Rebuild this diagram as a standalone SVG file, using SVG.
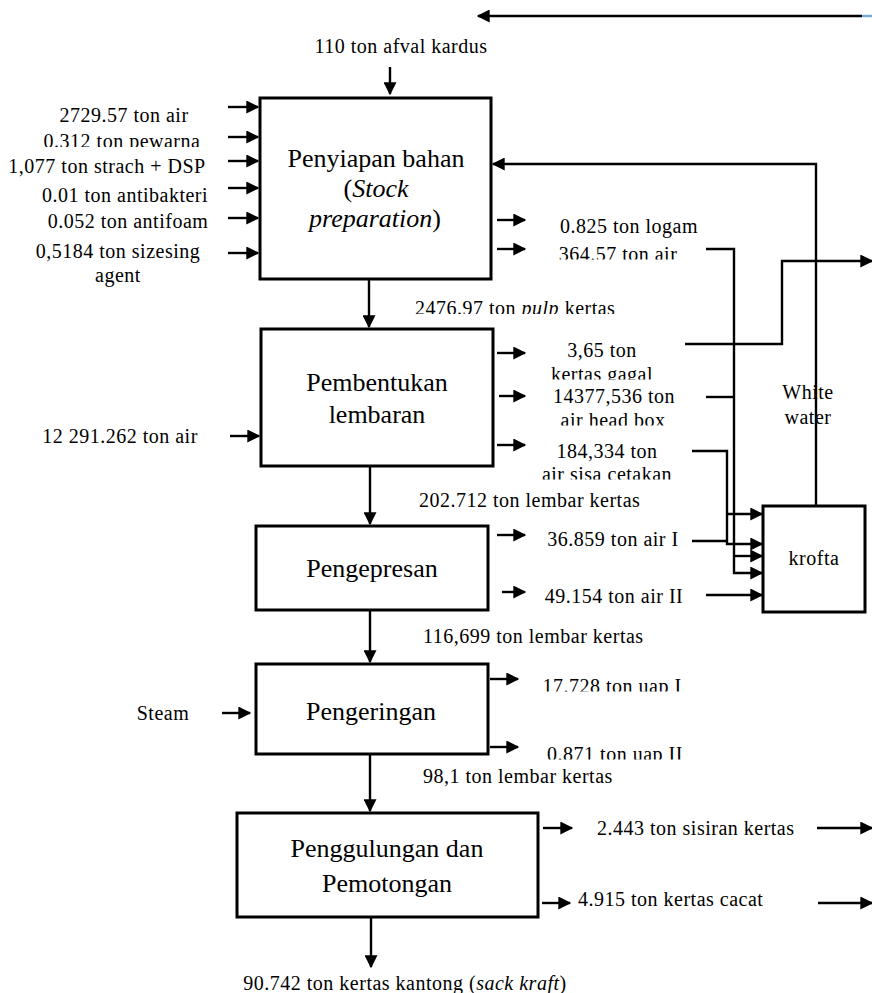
<svg xmlns="http://www.w3.org/2000/svg" width="872" height="993" viewBox="0 0 872 993">
<style>
text{font-family:"Liberation Serif","Times New Roman",serif;fill:#000}
.lb{font-size:20px;letter-spacing:0.5px}
.bx{font-size:26px}
.m{text-anchor:middle}
.box{fill:#fff;stroke:#000;stroke-width:3}
.ln{fill:none;stroke:#000;stroke-width:2.4}
.ar{fill:none;stroke:#000;stroke-width:2.4;marker-end:url(#ah)}
</style>
<defs>
<marker id="ah" viewBox="0 0 10 10" refX="9" refY="5" markerWidth="14" markerHeight="13" markerUnits="userSpaceOnUse" orient="auto"><path d="M0,0 L10,5 L0,10 z" fill="#000"/></marker>
<clipPath id="k1" clipPathUnits="userSpaceOnUse"><rect x="0" y="0" width="872" height="147"/></clipPath>
<clipPath id="k2" clipPathUnits="userSpaceOnUse"><rect x="0" y="0" width="872" height="259.5"/></clipPath>
<clipPath id="k3" clipPathUnits="userSpaceOnUse"><rect x="0" y="0" width="872" height="314"/></clipPath>
<clipPath id="k4" clipPathUnits="userSpaceOnUse"><rect x="0" y="0" width="872" height="379.5"/></clipPath>
<clipPath id="k5" clipPathUnits="userSpaceOnUse"><rect x="0" y="0" width="872" height="425.5"/></clipPath>
<clipPath id="k6" clipPathUnits="userSpaceOnUse"><rect x="0" y="0" width="872" height="479.5"/></clipPath>
<clipPath id="k7" clipPathUnits="userSpaceOnUse"><rect x="0" y="0" width="872" height="691.5"/></clipPath>
<clipPath id="k8" clipPathUnits="userSpaceOnUse"><rect x="0" y="0" width="872" height="759.5"/></clipPath>
</defs>
<rect width="872" height="993" fill="#fff"/>

<g id="connectors">
<line class="ar" x1="862" y1="16" x2="478" y2="16" stroke-width="3"/>
<line x1="862" y1="16" x2="872" y2="16" stroke="#7aa6d8" stroke-width="2.5"/>
<line class="ar" x1="390" y1="67" x2="390" y2="94"/>
<line class="ar" x1="228" y1="107" x2="258" y2="107"/>
<line class="ar" x1="228" y1="137" x2="258" y2="137"/>
<line class="ar" x1="228" y1="161" x2="258" y2="161"/>
<line class="ar" x1="228" y1="188" x2="258" y2="188"/>
<line class="ar" x1="228" y1="218" x2="258" y2="218"/>
<line class="ar" x1="228" y1="253" x2="258" y2="253"/>
<line class="ar" x1="369" y1="280" x2="369" y2="327"/>
<line class="ar" x1="497" y1="220" x2="525" y2="220"/>
<line class="ar" x1="497" y1="249" x2="525" y2="249"/>
<polyline class="ar" points="816,506 816,164 493,164"/>
<line class="ar" x1="230" y1="436" x2="259" y2="436"/>
<line class="ar" x1="497" y1="353" x2="525" y2="353"/>
<line class="ar" x1="499" y1="396" x2="525" y2="396"/>
<line class="ar" x1="497" y1="445" x2="525" y2="445"/>
<polyline class="ar" points="685,344 782,344 782,261 872,261"/>
<polyline class="ar" points="706,249 734,249 734,573 762,573"/>
<line class="ln" x1="706" y1="397" x2="734" y2="397"/>
<polyline class="ar" points="692,451 727,451 727,544 762,544"/>
<line class="ln" x1="692" y1="541" x2="727" y2="541"/>
<line class="ar" x1="727" y1="514" x2="762" y2="514"/>
<line class="ar" x1="734" y1="556" x2="762" y2="556"/>
<line class="ar" x1="706" y1="595" x2="762" y2="595"/>
<line class="ar" x1="370" y1="466" x2="370" y2="524"/>
<line class="ar" x1="497" y1="535" x2="525" y2="535"/>
<line class="ar" x1="502" y1="592" x2="525" y2="592"/>
<line class="ar" x1="370" y1="610" x2="370" y2="662"/>
<line class="ar" x1="222" y1="713" x2="250" y2="713"/>
<line class="ar" x1="490" y1="679" x2="518" y2="679"/>
<line class="ar" x1="490" y1="747" x2="518" y2="747"/>
<line class="ar" x1="370" y1="754" x2="370" y2="811"/>
<line class="ar" x1="543" y1="828" x2="572" y2="828"/>
<line class="ar" x1="542" y1="903" x2="570" y2="903"/>
<line class="ar" x1="817" y1="828" x2="872" y2="828"/>
<line class="ar" x1="818" y1="903" x2="872" y2="903"/>
<line class="ar" x1="371" y1="917" x2="371" y2="967"/>
</g>

<g id="box1">
<rect class="box" x="260" y="98" width="231" height="181"/>
<text class="bx m" x="376" y="167">Penyiapan bahan</text>
<text class="bx m" x="376" y="197">(<tspan font-style="italic">Stock</tspan></text>
<text class="bx m" x="375" y="227"><tspan font-style="italic">preparation</tspan>)</text>
</g>
<g id="box2">
<rect class="box" x="261" y="329" width="232" height="137"/>
<text class="bx m" x="377" y="391">Pembentukan</text>
<text class="bx m" x="377" y="423">lembaran</text>
</g>
<g id="box3">
<rect class="box" x="256" y="526" width="232" height="84"/>
<text class="bx m" x="372" y="577">Pengepresan</text>
</g>
<g id="box4">
<rect class="box" x="256" y="664" width="232" height="90"/>
<text class="bx m" x="371" y="720">Pengeringan</text>
</g>
<g id="box5">
<rect class="box" x="237" y="813" width="301" height="104"/>
<text class="bx m" x="387" y="857">Penggulungan dan</text>
<text class="bx m" x="387" y="892">Pemotongan</text>
</g>
<g id="krofta">
<rect class="box" x="763" y="506" width="102" height="106"/>
<text class="lb m" x="814" y="565">krofta</text>
</g>

<g id="labels">
<text class="lb m" x="401" y="53">110 ton afval kardus</text>
<text class="lb m" x="124" y="122">2729.57 ton air</text>
<text class="lb m" x="122" y="148" clip-path="url(#k1)">0.312 ton pewarna</text>
<text class="lb m" x="107" y="173">1,077 ton strach + DSP</text>
<text class="lb m" x="125" y="202">0.01 ton antibakteri</text>
<text class="lb m" x="128" y="228">0.052 ton antifoam</text>
<text class="lb m" x="118" y="258">0,5184 ton sizesing</text>
<text class="lb m" x="118" y="282">agent</text>
<text class="lb m" x="629" y="233">0.825 ton logam</text>
<text class="lb m" x="618" y="261" clip-path="url(#k2)">364.57 ton air</text>
<text class="lb" x="415" y="315" clip-path="url(#k3)">2476.97 ton <tspan font-style="italic">pulp</tspan> kertas</text>
<text class="lb m" x="120" y="443">12 291.262 ton air</text>
<text class="lb m" x="602" y="357">3,65 ton</text>
<text class="lb m" x="602" y="381" clip-path="url(#k4)">kertas gagal</text>
<text class="lb m" x="614" y="403">14377,536 ton</text>
<text class="lb m" x="613" y="427" clip-path="url(#k5)">air head box</text>
<text class="lb m" x="607" y="458">184,334 ton</text>
<text class="lb m" x="607" y="481" clip-path="url(#k6)">air sisa cetakan</text>
<text class="lb m" x="808" y="399">White</text>
<text class="lb m" x="808" y="424">water</text>
<text class="lb" x="419" y="507">202.712 ton lembar kertas</text>
<text class="lb m" x="613" y="546">36.859 ton air I</text>
<text class="lb m" x="614" y="603">49.154 ton air II</text>
<text class="lb" x="423" y="643">116,699 ton lembar kertas</text>
<text class="lb m" x="163" y="720">Steam</text>
<text class="lb m" x="612" y="693" clip-path="url(#k7)">17.728 ton uap I</text>
<text class="lb m" x="615" y="761" clip-path="url(#k8)">0.871 ton uap II</text>
<text class="lb" x="423" y="783">98,1 ton lembar kertas</text>
<text class="lb" x="597" y="835">2.443 ton sisiran kertas</text>
<text class="lb" x="578" y="906">4.915 ton kertas cacat</text>
<text class="lb m" x="405" y="990">90.742 ton kertas kantong (<tspan font-style="italic">sack kraft</tspan>)</text>
</g>
</svg>
